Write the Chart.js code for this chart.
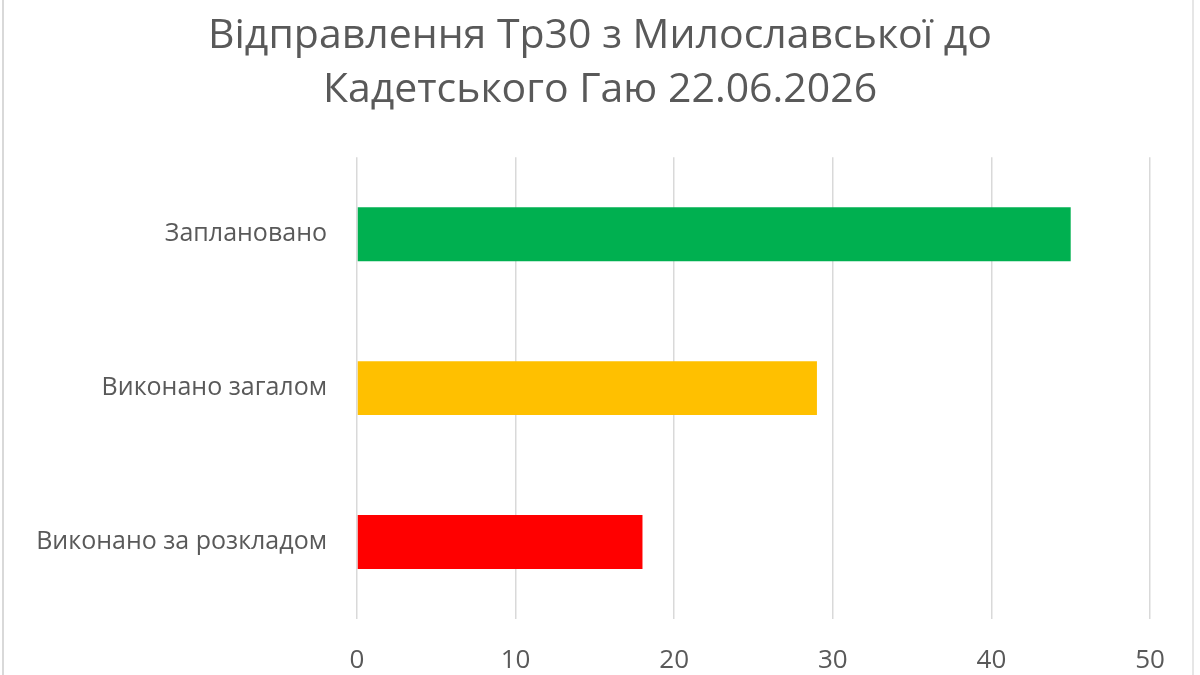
<!DOCTYPE html>
<html>
<head>
<meta charset="utf-8">
<script src="https://cdn.jsdelivr.net/npm/chart.js@4/dist/chart.umd.min.js"></script>
<style>
    html, body { margin: 0; padding: 0; background: #ffffff; }
    #wrap { position: relative; width: 1200px; height: 675px; }
    #frame { position: absolute; left: 2px; top: -2px; width: 1192px; height: 680px; border-left: 2px solid #d9d9d9; border-right: 2px solid #e6e6e6; box-sizing: border-box; pointer-events: none; }
</style>
</head>
<body>
<div id="wrap">
    <canvas id="chart" width="1200" height="675"></canvas>
    <div id="frame"></div>
</div>
<script>
const titleLines = ['Відправлення Тр30 з Милославської до', 'Кадетського Гаю 22.06.2026']
const categories = ['Заплановано', 'Виконано загалом', 'Виконано за розкладом']
const departures = [45, 29, 18]
const xTicks = [0, 10, 20, 30, 40, 50]

const barColors = ['#00b050', '#ffc000', '#ff0000']
const textColor = '#595959'
const gridColor = '#d9d9d9'
const fontName = "'Open Sans'"

new Chart(document.getElementById('chart'), {
    type: 'bar',
    data: {
        labels: categories,
        datasets: [{
            data: departures,
            backgroundColor: barColors,
            borderWidth: 0,
            categoryPercentage: 1,
            barPercentage: 0.35
        }]
    },
    options: {
        indexAxis: 'y',
        responsive: false,
        animation: false,
        layout: { padding: 0 },
        plugins: {
            legend: { display: false },
            tooltip: { enabled: false },
            title: {
                display: true,
                text: titleLines,
                color: textColor,
                font: { family: fontName, size: 41, weight: 'normal', lineHeight: 1.32 },
                padding: { top: 9, bottom: 40 }
            }
        },
        scales: {
            x: {
                min: xTicks[0],
                max: xTicks[xTicks.length - 1],
                afterBuildTicks: axis => { axis.ticks = xTicks.map(v => ({ value: v })) },
                afterFit: axis => { axis.height = 56 },
                grid: { color: gridColor, lineWidth: 1.5, drawTicks: false },
                border: { display: false },
                ticks: {
                    color: textColor,
                    padding: 26,
                    font: { family: fontName, size: 26 }
                }
            },
            y: {
                afterFit: axis => { axis.width = 357 },
                grid: { display: false },
                border: { display: false },
                ticks: {
                    color: textColor,
                    padding: 22,
                    font: { family: fontName, size: 25 }
                }
            },
            // empty strip on the right so the plot stops at 50 and the title stays centred
            spacer: {
                type: 'linear',
                axis: 'y',
                position: 'right',
                afterFit: axis => { axis.width = 50 },
                grid: { display: false },
                border: { display: false },
                ticks: { display: false }
            }
        }
    }
})
</script>
</body>
</html>
